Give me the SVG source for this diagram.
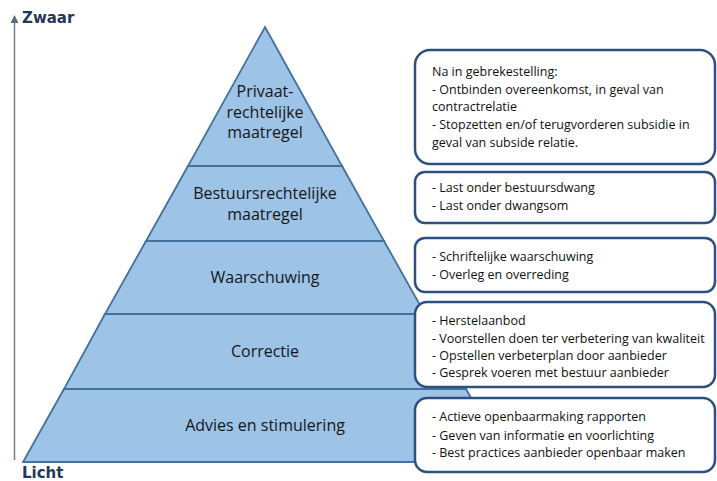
<svg xmlns="http://www.w3.org/2000/svg" width="717" height="481" viewBox="0 0 717 481">
<defs>
<marker id="arr" markerWidth="8" markerHeight="8" refX="4" refY="4" orient="auto" markerUnits="userSpaceOnUse">
<path d="M0,0 L8,4 L0,8 Z" fill="#5a6b80"/>
</marker>
<style>
.band{fill:#9dc3e6;stroke:#41719c;stroke-width:1.8;stroke-linejoin:miter}
.lbl{font-family:"Open Sans","Liberation Sans",sans-serif;font-size:16px;fill:#161616;text-anchor:middle}
.box{fill:#ffffff;stroke:#2e5080;stroke-width:2.5}
.bt{font-family:"Open Sans","Liberation Sans",sans-serif;font-size:12.5px;fill:#111111}
.ax{font-family:"DejaVu Sans",sans-serif;font-weight:bold;font-size:15px;fill:#24385a}
</style>
</defs>
<rect width="717" height="481" fill="#ffffff"/>
<g id="axis">
<line x1="14.5" y1="460" x2="14.5" y2="19" stroke="#6f7d8e" stroke-width="1.5" marker-end="url(#arr)"/>
<text class="ax" x="22" y="23">Zwaar</text>
<text class="ax" x="22" y="478">Licht</text>
</g>
<g id="pyramid">
<g id="level5"><polygon class="band" points="64,389 466,389 507,462 23,462"/><text class="lbl" x="265" y="431">Advies en stimulering</text></g>
<g id="level4"><polygon class="band" points="105,314 425,314 466,389 64,389"/><text class="lbl" x="265" y="357">Correctie</text></g>
<g id="level3"><polygon class="band" points="146,241 384,241 425,314 105,314"/><text class="lbl" x="265" y="283">Waarschuwing</text></g>
<g id="level2"><polygon class="band" points="188,166 342,166 384,241 146,241"/><text class="lbl" x="265" y="199">Bestuursrechtelijke</text><text class="lbl" x="265" y="220">maatregel</text></g>
<g id="level1"><polygon class="band" points="265,27 342,166 188,166"/><text class="lbl" x="265" y="97">Privaat-</text><text class="lbl" x="265" y="118">rechtelijke</text><text class="lbl" x="265" y="138">maatregel</text></g>
</g>
<g id="box1"><rect class="box" x="415" y="50" width="300" height="114" rx="15"/>
<text class="bt" x="432" y="76">Na in gebrekestelling:</text>
<text class="bt" x="432" y="94">- Ontbinden overeenkomst, in geval van</text>
<text class="bt" x="432" y="111">contractrelatie</text>
<text class="bt" x="432" y="129">- Stopzetten en/of terugvorderen subsidie in</text>
<text class="bt" x="432" y="147">geval van subside relatie.</text>
</g>
<g id="box2"><rect class="box" x="415" y="172" width="300" height="51" rx="10"/>
<text class="bt" x="432" y="192">- Last onder bestuursdwang</text>
<text class="bt" x="432" y="210">- Last onder dwangsom</text>
</g>
<g id="box3"><rect class="box" x="415" y="238" width="300" height="54" rx="10"/>
<text class="bt" x="432" y="261">- Schriftelijke waarschuwing</text>
<text class="bt" x="432" y="279">- Overleg en overreding</text>
</g>
<g id="box4"><rect class="box" x="415" y="302" width="300" height="85" rx="12"/>
<text class="bt" x="432" y="325">- Herstelaanbod</text>
<text class="bt" x="432" y="343">- Voorstellen doen ter verbetering van kwaliteit</text>
<text class="bt" x="432" y="360">- Opstellen verbeterplan door aanbieder</text>
<text class="bt" x="432" y="377">- Gesprek voeren met bestuur aanbieder</text>
</g>
<g id="box5"><rect class="box" x="415" y="398" width="300" height="74" rx="12"/>
<text class="bt" x="432" y="421">- Actieve openbaarmaking rapporten</text>
<text class="bt" x="432" y="440">- Geven van informatie en voorlichting</text>
<text class="bt" x="432" y="457">- Best practices aanbieder openbaar maken</text>
</g>
</svg>
